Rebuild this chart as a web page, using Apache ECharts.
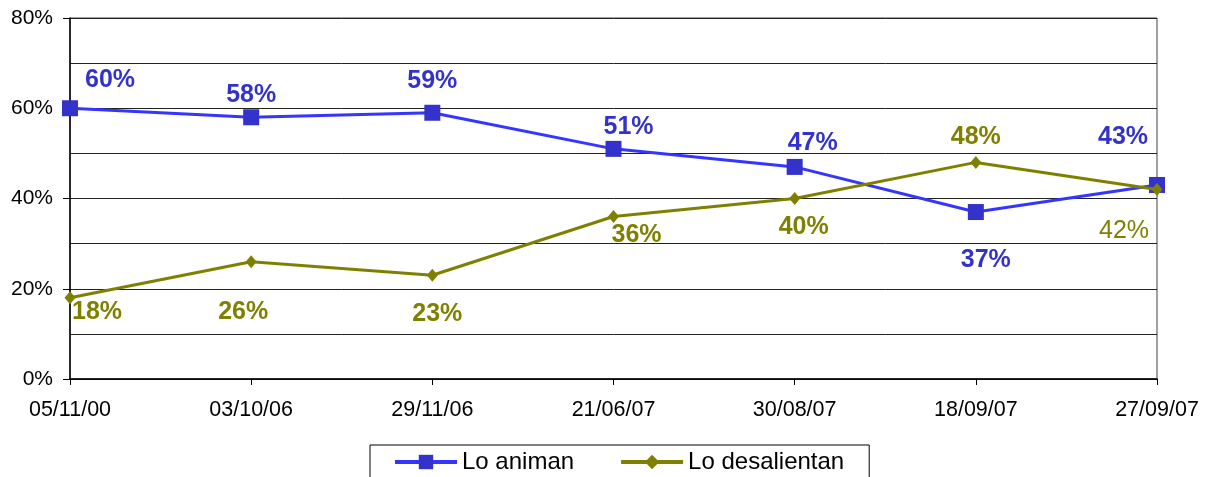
<!DOCTYPE html>
<html>
<head>
<meta charset="utf-8">
<script src="https://cdn.jsdelivr.net/npm/echarts@6/dist/echarts.min.js"></script>
<style>
  html, body { margin: 0; padding: 0; background: #fff; }
  #chart { width: 1211px; height: 477px; }
</style>
</head>
<body>
<div id="chart"></div>
<script>
  // fechas de las encuestas
  const categories = ['05/11/00', '03/10/06', '29/11/06', '21/06/07', '30/08/07', '18/09/07', '27/09/07']
  const loAniman = [60, 58, 59, 51, 47, 37, 43]
  const loDesalientan = [18, 26, 23, 36, 40, 48, 42]
  const yTicks = [0, 20, 40, 60, 80]

  // desplazamiento de cada etiqueta respecto a su punto (px)
  const offsetsAniman = [[40, -28], [0, -22], [0, -32], [15, -22], [18, -24], [10, 48], [-34, -48]]
  const offsetsDesal = [[27, 14], [-8, 50], [5, 39], [23, 19], [9, 29], [0, -25], [-33, 42]]

  const font = '"Liberation Sans", Arial, sans-serif'

  function buildData(values, offsets, color) {
    return values.map((v, i) => ({
      value: v,
      label: {
        offset: offsets[i],
        color: color,
        fontWeight: (color === '#808000' && i === 6) ? 'normal' : 'bold'
      }
    }))
  }

  const chart = echarts.init(document.getElementById('chart'))
  chart.setOption({
    animation: false,
    textStyle: { fontFamily: font },
    grid: {
      left: 70, right: 54, top: 18, bottom: 98,
      show: true, borderColor: '#444', borderWidth: 1
    },
    legend: {
      left: 370, top: 445,
      padding: [5, 25, 12, 23],
      borderColor: '#000', borderWidth: 1,
      itemWidth: 62, itemHeight: 18, itemGap: 45,
      lineStyle: { width: 4 },
      textStyle: { fontSize: 24, color: '#000', fontFamily: font },
      data: ['Lo animan', 'Lo desalientan']
    },
    xAxis: {
      type: 'category',
      boundaryGap: false,
      data: categories,
      axisLine: { lineStyle: { color: '#000', width: 1.5 } },
      axisTick: { length: 6, lineStyle: { color: '#000' } },
      axisLabel: { color: '#000', fontSize: 21.5, margin: 20, fontFamily: font },
      splitLine: { show: false }
    },
    yAxis: {
      type: 'value',
      min: yTicks[0], max: yTicks[yTicks.length - 1], interval: 20,
      axisLine: { show: true, lineStyle: { color: '#000', width: 1.5 } },
      axisTick: { show: true, length: 7, lineStyle: { color: '#000' } },
      axisLabel: { color: '#000', fontSize: 21, margin: 17, formatter: '{value}%', fontFamily: font },
      splitLine: { show: true, lineStyle: { color: '#222', width: 1 } },
      minorTick: { show: false, splitNumber: 2 },
      minorSplitLine: { show: true, lineStyle: { color: '#222', width: 1 } }
    },
    series: [
      {
        name: 'Lo animan',
        type: 'line',
        data: buildData(loAniman, offsetsAniman, '#3333cc'),
        symbol: 'rect',
        symbolSize: 16,
        itemStyle: { color: '#3333cc' },
        lineStyle: { color: '#3535ff', width: 3 },
        label: {
          show: true, position: 'inside', formatter: '{c}%',
          fontSize: 25, fontFamily: font
        },
        z: 3
      },
      {
        name: 'Lo desalientan',
        type: 'line',
        data: buildData(loDesalientan, offsetsDesal, '#808000'),
        symbol: 'diamond',
        symbolSize: [11, 13],
        itemStyle: { color: '#808000' },
        lineStyle: { color: '#808000', width: 3 },
        label: {
          show: true, position: 'inside', formatter: '{c}%',
          fontSize: 25, fontFamily: font
        },
        z: 4
      }
    ]
  })
</script>
</body>
</html>
